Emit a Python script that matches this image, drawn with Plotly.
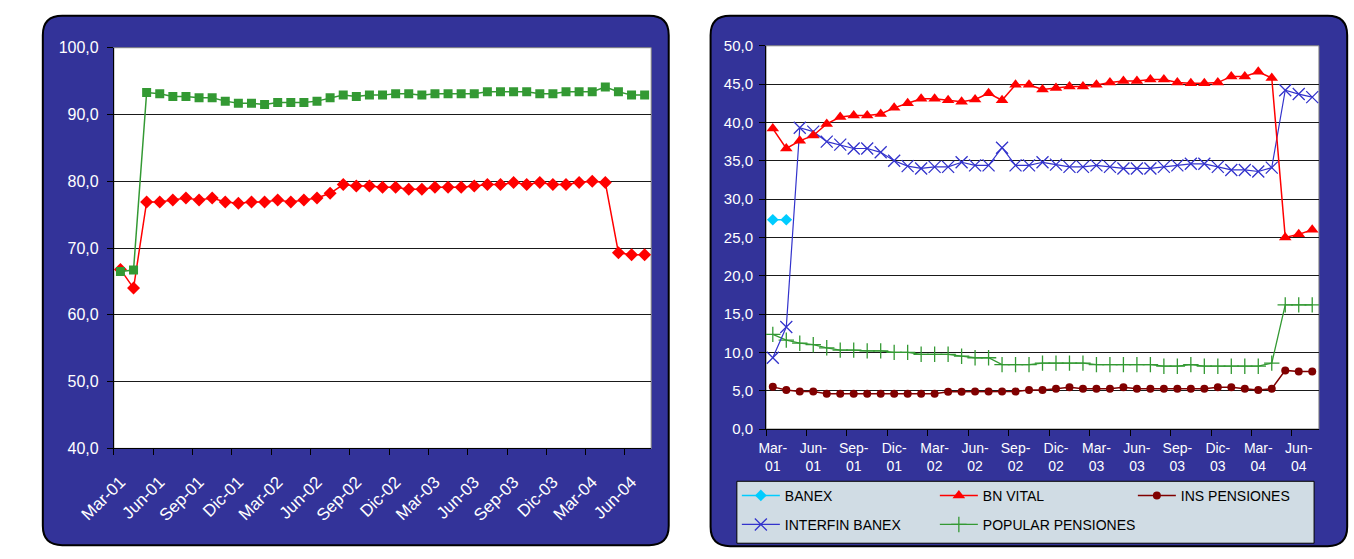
import plotly.graph_objects as go

W, H = 1354, 559

months = ["Mar-01", "Abr-01", "May-01", "Jun-01", "Jul-01", "Ago-01", "Sep-01", "Oct-01", "Nov-01", "Dic-01",
          "Ene-02", "Feb-02", "Mar-02", "Abr-02", "May-02", "Jun-02", "Jul-02", "Ago-02", "Sep-02", "Oct-02",
          "Nov-02", "Dic-02", "Ene-03", "Feb-03", "Mar-03", "Abr-03", "May-03", "Jun-03", "Jul-03", "Ago-03",
          "Sep-03", "Oct-03", "Nov-03", "Dic-03", "Ene-04", "Feb-04", "Mar-04", "Abr-04", "May-04", "Jun-04",
          "Jul-04"]
months_2line = [m.replace("-", "-<br>") for m in months]

# Left chart series
left_green = [66.5, 66.7, 93.3, 93.1, 92.7, 92.7, 92.5, 92.5, 92.0, 91.7, 91.7, 91.5, 91.8, 91.8, 91.8, 92.0,
              92.5, 92.9, 92.7, 92.9, 92.9, 93.1, 93.1, 92.9, 93.1, 93.1, 93.1, 93.1, 93.4, 93.4, 93.4, 93.4,
              93.1, 93.1, 93.4, 93.4, 93.4, 94.1, 93.4, 92.9, 92.9]
left_red = [66.8, 64.0, 76.9, 76.9, 77.2, 77.5, 77.2, 77.5, 76.9, 76.7, 76.9, 76.9, 77.2, 76.9, 77.2, 77.5,
            78.2, 79.5, 79.3, 79.3, 79.1, 79.1, 78.8, 78.8, 79.1, 79.1, 79.1, 79.3, 79.5, 79.5, 79.8, 79.5,
            79.8, 79.5, 79.5, 79.8, 80.0, 79.8, 69.3, 69.0, 69.0]

# Right chart series
banex = [27.3, 27.3] + [None] * 39
bn_vital = [39.2, 36.6, 37.6, 38.3, 39.8, 40.7, 40.9, 40.9, 41.1, 41.9, 42.5, 43.1, 43.1, 42.9, 42.7, 43.0,
            43.8, 42.9, 44.9, 44.9, 44.3, 44.5, 44.7, 44.7, 44.9, 45.2, 45.4, 45.4, 45.6, 45.6, 45.2, 45.1,
            45.1, 45.2, 46.0, 46.0, 46.6, 45.8, 25.0, 25.4, 26.0]
ins_pensiones = [5.5, 5.1, 4.9, 4.9, 4.6, 4.6, 4.6, 4.6, 4.6, 4.6, 4.6, 4.6, 4.6, 4.85, 4.85, 4.9,
                 4.9, 4.9, 4.9, 5.1, 5.1, 5.25, 5.45, 5.25, 5.25, 5.25, 5.45, 5.25, 5.25, 5.25, 5.25, 5.25,
                 5.25, 5.45, 5.45, 5.25, 5.1, 5.25, 7.65, 7.5, 7.5]
interfin_banex = [9.3, 13.3, 39.3, 38.8, 37.5, 37.1, 36.6, 36.6, 36.1, 35.0, 34.3, 34.0, 34.2, 34.2, 34.8, 34.4,
                  34.4, 36.7, 34.4, 34.4, 34.8, 34.5, 34.2, 34.2, 34.4, 34.2, 34.0, 34.0, 34.0, 34.2, 34.4, 34.6,
                  34.6, 34.2, 33.8, 33.8, 33.6, 34.1, 44.2, 43.7, 43.3]
popular_pensiones = [12.35, 11.6, 11.2, 11.0, 10.6, 10.3, 10.3, 10.2, 10.2, 10.0, 10.0, 9.75, 9.75, 9.75, 9.5, 9.3,
                     9.3, 8.4, 8.4, 8.4, 8.6, 8.6, 8.6, 8.6, 8.4, 8.4, 8.4, 8.4, 8.4, 8.2, 8.2, 8.4,
                     8.2, 8.2, 8.2, 8.2, 8.2, 8.6, 16.2, 16.2, 16.2]

NAVY = "#333399"
FONT = "Liberation Sans, Arial, sans-serif"


def fx(px):
    return px / W


def fy(py):
    return 1 - py / H


def rounded(x0, y0, x1, y1, r):
    P = lambda x, y: f"{fx(x):.5f},{fy(y):.5f}"
    return (f"M {P(x0 + r, y0)} L {P(x1 - r, y0)} Q {P(x1, y0)} {P(x1, y0 + r)} "
            f"L {P(x1, y1 - r)} Q {P(x1, y1)} {P(x1 - r, y1)} L {P(x0 + r, y1)} "
            f"Q {P(x0, y1)} {P(x0, y1 - r)} L {P(x0, y0 + r)} Q {P(x0, y0)} {P(x0 + r, y0)} Z")


# plot areas in px
L_PA = (80, 40, 632, 454)
R_PA = (750, 38, 1318, 434)

fig = go.Figure()

fig.add_trace(go.Scatter(x=months, y=left_red, mode="lines+markers", showlegend=False,
                         line=dict(color="#FF0000", width=1.5),
                         marker=dict(symbol="diamond", size=10, color="#FF0000"),
                         xaxis="x", yaxis="y"))
fig.add_trace(go.Scatter(x=months, y=left_green, mode="lines+markers", showlegend=False,
                         line=dict(color="#339933", width=1.5),
                         marker=dict(symbol="square", size=9, color="#339933"),
                         xaxis="x", yaxis="y"))

fig.add_trace(go.Scatter(x=months_2line, y=popular_pensiones, name="POPULAR PENSIONES", mode="lines+markers",
                         line=dict(color="#339933", width=1.3), legend="legend2", legendrank=5,
                         legendwidth=200,
                         marker=dict(symbol="cross-thin", size=11, color="#339933",
                                     line=dict(color="#339933", width=1.3)),
                         xaxis="x2", yaxis="y2"))
fig.add_trace(go.Scatter(x=months_2line, y=ins_pensiones, name="INS PENSIONES", mode="lines+markers",
                         line=dict(color="#800000", width=1.5), legend="legend", legendrank=3,
                         legendwidth=160,
                         marker=dict(symbol="circle", size=8, color="#800000"),
                         xaxis="x2", yaxis="y2"))
fig.add_trace(go.Scatter(x=months_2line, y=interfin_banex, name="INTERFIN BANEX", mode="lines+markers",
                         line=dict(color="#3333CC", width=1.2), legend="legend2", legendrank=4,
                         marker=dict(symbol="x-thin", size=12, color="#3333CC",
                                     line=dict(color="#3333CC", width=1.3)),
                         xaxis="x2", yaxis="y2"))
fig.add_trace(go.Scatter(x=months_2line, y=bn_vital, name="BN VITAL", mode="lines+markers",
                         line=dict(color="#FF0000", width=1.5), legend="legend", legendrank=2,
                         marker=dict(symbol="triangle-up", size=11, color="#FF0000"),
                         xaxis="x2", yaxis="y2"))
fig.add_trace(go.Scatter(x=months_2line, y=banex, name="BANEX", mode="lines+markers",
                         line=dict(color="#00CCFF", width=1.5), legend="legend", legendrank=1,
                         marker=dict(symbol="diamond", size=9, color="#00CCFF"),
                         xaxis="x2", yaxis="y2"))

shapes = []
for (x0, y0, x1, y1) in [(7, 7, 650, 554), (693, 7, 1347, 555)]:
    shapes.append(dict(type="path", xref="paper", yref="paper", layer="below",
                       path=rounded(x0, y0, x1, y1, 20), fillcolor=NAVY,
                       line=dict(color="#000000", width=2)))
for (x0, y0, x1, y1) in [L_PA, R_PA]:
    shapes.append(dict(type="rect", xref="paper", yref="paper", layer="below",
                       x0=fx(x0), x1=fx(x1), y0=fy(y1), y1=fy(y0),
                       fillcolor="#FFFFFF", line=dict(color="#808080", width=1)))
# legend box
shapes.append(dict(type="rect", xref="paper", yref="paper", layer="below",
                   x0=fx(720), x1=fx(1313), y0=fy(552), y1=fy(488),
                   fillcolor="#D0DCE4", line=dict(color="#000000", width=1)))

common_x = dict(type="category", tickmode="linear", tick0=0, dtick=3, tickson="boundaries",
                range=[-0.5, 40.5], showgrid=False, showline=True, linecolor="#000000", linewidth=1,
                ticks="outside", ticklen=6, tickcolor="#000000", zeroline=False)
common_y = dict(showgrid=True, gridcolor="#1A1A1A", gridwidth=1, showline=True, linecolor="#000000",
                linewidth=1, ticks="outside", ticklen=6, tickcolor="#000000", zeroline=False,
                tickformat=".1f")

legend_common = dict(orientation="h", x=fx(720), xanchor="left", yanchor="middle",
                     bgcolor="rgba(0,0,0,0)", borderwidth=0,
                     font=dict(size=14, color="#000000", family=FONT),
                     entrywidth=145, entrywidthmode="pixels", itemwidth=38, traceorder="normal")

fig.update_layout(
    width=W, height=H, margin=dict(l=0, r=0, t=0, b=0),
    paper_bgcolor="#FFFFFF", plot_bgcolor="#FFFFFF",
    separators=",.",
    font=dict(family=FONT, color="#FFFFFF"),
    shapes=shapes,
    xaxis=dict(common_x, domain=[fx(L_PA[0]), fx(L_PA[2])], anchor="y", tickangle=-45,
               tickfont=dict(size=17, color="#FFFFFF"), ticklabelstandoff=16),
    yaxis=dict(common_y, domain=[fy(L_PA[3]), fy(L_PA[1])], anchor="x", range=[40, 100], dtick=10,
               tickfont=dict(size=16, color="#FFFFFF"), ticklabelstandoff=5),
    xaxis2=dict(common_x, domain=[fx(R_PA[0]), fx(R_PA[2])], anchor="y2", tickangle=0,
                tickfont=dict(size=14, color="#FFFFFF"), ticklabelstandoff=6),
    yaxis2=dict(common_y, domain=[fy(R_PA[3]), fy(R_PA[1])], anchor="x2", range=[0, 50], dtick=5,
                tickfont=dict(size=15, color="#FFFFFF"), ticklabelstandoff=3),
    legend=dict(legend_common, y=fy(503)),
    legend2=dict(legend_common, y=fy(533)),
)

fig.write_html("out.html")
